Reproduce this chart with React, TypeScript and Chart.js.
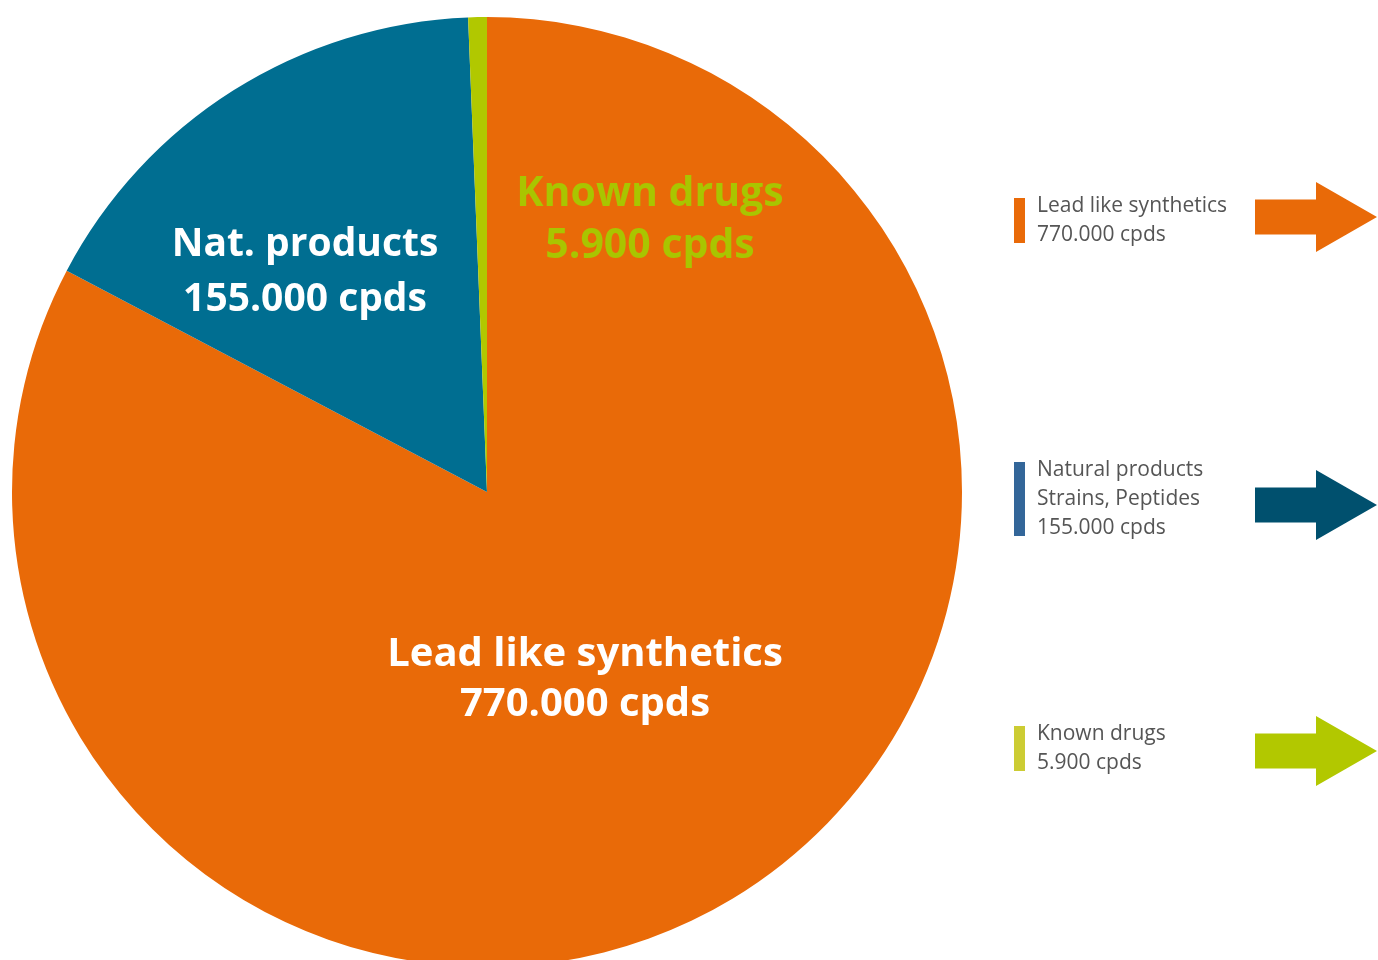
import React, { useEffect, useRef } from "react";
import { Chart, registerables } from "chart.js";

Chart.register(...registerables);

const categories = ["Lead like synthetics", "Natural products", "Known drugs"];
const values = [770000, 155000, 5900];
const sliceColors = ["#E96A08", "#006E91", "#B1C800"];
const pieLabels = [
  ["Lead like synthetics", "770.000 cpds"],
  ["Nat. products", "155.000 cpds"],
  ["Known drugs", "5.900 cpds"],
];
const pieLabelColors = ["#FFFFFF", "#FFFFFF", "#A9C500"];
const legendLines = [
  ["Lead like synthetics", "770.000 cpds"],
  ["Natural products", "Strains, Peptides", "155.000 cpds"],
  ["Known drugs", "5.900 cpds"],
];
const legendBarColors = ["#E96A08", "#336699", "#CCCC33"];
const arrowColors = ["#E96A08", "#00506E", "#B2C800"];

const W = 1378;
const H = 990;

export default function App() {
  const ref = useRef<HTMLCanvasElement | null>(null);

  useEffect(() => {
    document.body.style.margin = "0";
    const canvas = ref.current;
    if (!canvas) return;

    const overlay = {
      id: "overlay",
      afterDraw(chart: any) {
        const ctx = chart.ctx;
        const meta = chart.getDatasetMeta(0);
        const arc = meta.data[0];
        const cx = arc.x;
        const cy = arc.y;
        // in-pie labels (offsets relative to pie centre): dx, dy, line gap, font size
        const offs = [
          [98, 163, 50, 40],
          [-182, -247, 55, 39],
          [163, -298, 52, 41],
        ];
        ctx.save();
        ctx.textAlign = "center";
        ctx.textBaseline = "middle";
        pieLabels.forEach((lines, i) => {
          ctx.font = `bold ${offs[i][3]}px 'Open Sans'`;
          ctx.fillStyle = pieLabelColors[i];
          lines.forEach((t, j) => {
            ctx.fillText(t, cx + offs[i][0], cy + offs[i][1] + j * offs[i][2]);
          });
        });
        // legend
        const tops = [206, 470, 734];
        ctx.textAlign = "left";
        ctx.font = "21px 'Open Sans'";
        legendLines.forEach((lines, i) => {
          const y0 = tops[i];
          ctx.fillStyle = legendBarColors[i];
          ctx.fillRect(1014, y0 - 8, 11, lines.length * 29 - 13);
          ctx.fillStyle = "#555555";
          lines.forEach((t, j) => ctx.fillText(t, 1037, y0 + j * 29));
        });
        // arrows
        const tips = [217, 505, 751];
        tips.forEach((ty, i) => {
          ctx.fillStyle = arrowColors[i];
          ctx.beginPath();
          ctx.moveTo(1255, ty - 17.5);
          ctx.lineTo(1316, ty - 17.5);
          ctx.lineTo(1316, ty - 35);
          ctx.lineTo(1377, ty);
          ctx.lineTo(1316, ty + 35);
          ctx.lineTo(1316, ty + 17.5);
          ctx.lineTo(1255, ty + 17.5);
          ctx.closePath();
          ctx.fill();
        });
        ctx.restore();
      },
    };

    const chart = new Chart(canvas, {
      type: "pie",
      data: {
        labels: categories,
        datasets: [
          {
            data: values,
            backgroundColor: sliceColors,
            borderWidth: 0,
          },
        ],
      },
      options: {
        responsive: false,
        animation: false,
        layout: { padding: { left: 12, top: 17, right: W - 962, bottom: H - 967 } },
        plugins: {
          legend: { display: false },
          tooltip: { enabled: false },
        },
      },
      plugins: [overlay],
    });
    return () => chart.destroy();
  }, []);

  return (
    <div style={{ position: "fixed", left: 0, top: 0, width: W, height: 960, overflow: "hidden", background: "#fff" }}>
      <canvas ref={ref} width={W} height={H} style={{ display: "block" }} />
    </div>
  );
}
